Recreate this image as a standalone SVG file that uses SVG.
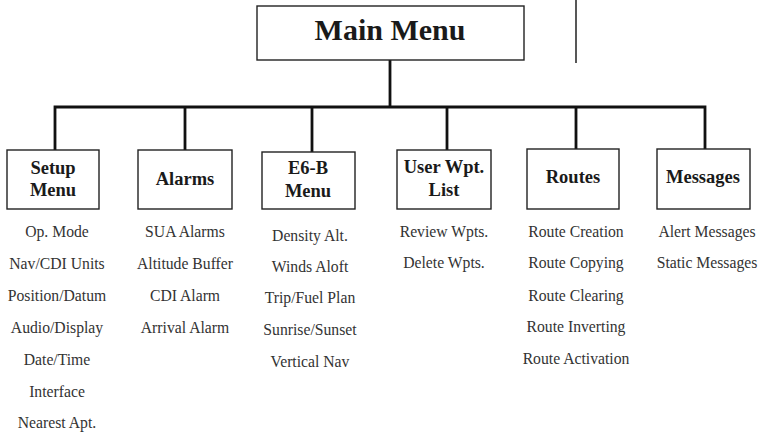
<svg xmlns="http://www.w3.org/2000/svg" width="759" height="434" viewBox="0 0 759 434">
<style>
.box{fill:#fff;stroke:#222;stroke-width:1.4}
.title{font-family:"Liberation Serif",serif;font-weight:bold;fill:#1a1a1a;text-anchor:middle;font-size:18.5px}
.item{font-family:"Liberation Serif",serif;font-size:15.7px;fill:#333;text-anchor:middle}
.conn{stroke:#111;stroke-width:2.8;fill:none}
</style>
<rect width="759" height="434" fill="#fff"/>
<g id="connectors">
<line class="conn" x1="390" y1="60" x2="390" y2="107"/>
<path class="conn" d="M55 150 V107 H705 V149"/>
<line class="conn" x1="185" y1="107" x2="185" y2="150"/>
<line class="conn" x1="312" y1="107" x2="312" y2="152"/>
<line class="conn" x1="447" y1="107" x2="447" y2="150"/>
<line class="conn" x1="576" y1="107" x2="576" y2="149"/>
<line x1="576" y1="0" x2="576" y2="63" stroke="#111" stroke-width="1.4"/>
</g>
<g id="main">
<rect class="box" x="257" y="6" width="267" height="54"/>
<text class="title" x="390" y="40" style="font-size:30px">Main Menu</text>
</g>
<g id="setup">
<rect class="box" x="7" y="150" width="92" height="59"/>
<text class="title" x="53" y="174">Setup</text>
<text class="title" x="53" y="196">Menu</text>
<text class="item" x="57" y="237">Op. Mode</text>
<text class="item" x="57" y="269">Nav/CDI Units</text>
<text class="item" x="57" y="301">Position/Datum</text>
<text class="item" x="57" y="333">Audio/Display</text>
<text class="item" x="57" y="365">Date/Time</text>
<text class="item" x="57" y="397">Interface</text>
<text class="item" x="57" y="428">Nearest Apt.</text>
</g>
<g id="alarms">
<rect class="box" x="138" y="150" width="94" height="59"/>
<text class="title" x="185" y="185">Alarms</text>
<text class="item" x="185" y="237">SUA Alarms</text>
<text class="item" x="185" y="269">Altitude Buffer</text>
<text class="item" x="185" y="301">CDI Alarm</text>
<text class="item" x="185" y="333">Arrival Alarm</text>
</g>
<g id="e6b">
<rect class="box" x="262" y="152" width="93" height="57"/>
<text class="title" x="308" y="174">E6-B</text>
<text class="title" x="308" y="197">Menu</text>
<text class="item" x="310" y="241">Density Alt.</text>
<text class="item" x="310" y="272">Winds Aloft</text>
<text class="item" x="310" y="303">Trip/Fuel Plan</text>
<text class="item" x="310" y="335">Sunrise/Sunset</text>
<text class="item" x="310" y="367">Vertical Nav</text>
</g>
<g id="userwpt">
<rect class="box" x="397" y="150" width="94" height="59"/>
<text class="title" x="444" y="173">User Wpt.</text>
<text class="title" x="444" y="196">List</text>
<text class="item" x="444" y="237">Review Wpts.</text>
<text class="item" x="444" y="268">Delete Wpts.</text>
</g>
<g id="routes">
<rect class="box" x="527" y="149" width="92" height="60"/>
<text class="title" x="573" y="183">Routes</text>
<text class="item" x="576" y="237">Route Creation</text>
<text class="item" x="576" y="268">Route Copying</text>
<text class="item" x="576" y="301">Route Clearing</text>
<text class="item" x="576" y="332">Route Inverting</text>
<text class="item" x="576" y="364">Route Activation</text>
</g>
<g id="messages">
<rect class="box" x="657" y="149" width="93" height="60"/>
<text class="title" x="703" y="183">Messages</text>
<text class="item" x="707" y="237">Alert Messages</text>
<text class="item" x="707" y="268">Static Messages</text>
</g>
</svg>
